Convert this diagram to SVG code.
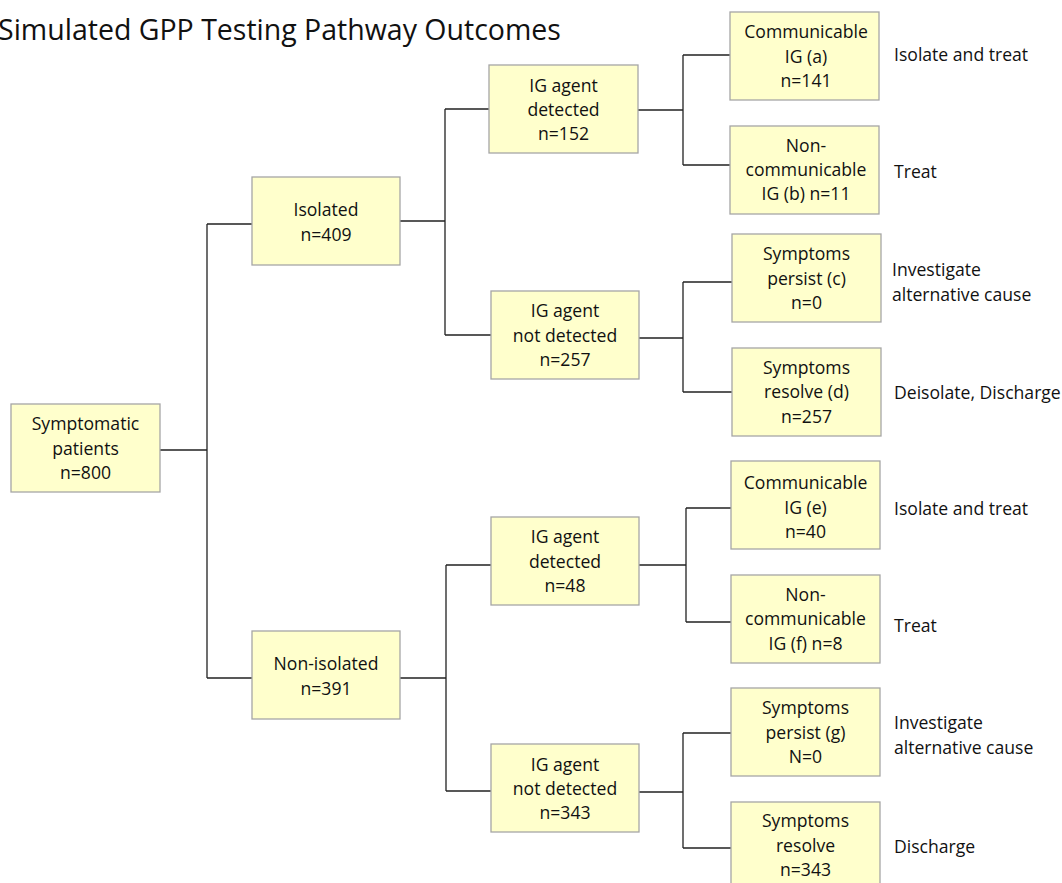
<svg xmlns="http://www.w3.org/2000/svg" width="1062" height="883" viewBox="0 0 1062 883">
<style>
.box{fill:#FFFFCC;stroke:#A6A6A6;stroke-width:1.3}
.t{font-family:"Open Sans","Liberation Sans",sans-serif;font-size:17.6px;fill:#111;text-anchor:middle}
.l{font-family:"Open Sans","Liberation Sans",sans-serif;font-size:17.6px;fill:#111}
.title{font-family:"Open Sans","Liberation Sans",sans-serif;font-size:28.5px;fill:#111}
.c{stroke:#222;stroke-width:1.3;fill:none}
</style>
<rect width="1062" height="883" fill="#fff"/>
<text class="title" x="-2" y="40">Simulated GPP Testing Pathway Outcomes</text>
<g id="connectors">
<path class="c" d="M160,450H207M207,224V678M207,224H252M207,678H252"/>
<path class="c" d="M400,221H445M445,109V335M445,109H489M445,335H491"/>
<path class="c" d="M638,110H683M683,55V165M683,55H730M683,165H730"/>
<path class="c" d="M639,338H683M683,282V392M683,282H732M683,392H732"/>
<path class="c" d="M400,678H446M446,565V791M446,565H491M446,791H491"/>
<path class="c" d="M639,565H686M686,508V622M686,508H731M686,622H731"/>
<path class="c" d="M639,792H683M683,733V848M683,733H731M683,848H731"/>
</g>
<g id="n-symptomatic"><rect class="box" x="11" y="404" width="149" height="88"/>
<text class="t" x="85.5" y="430">Symptomatic</text><text class="t" x="85.5" y="455">patients</text><text class="t" x="85.5" y="479">n=800</text></g>
<g id="n-isolated"><rect class="box" x="252" y="177" width="148" height="88"/>
<text class="t" x="326" y="216">Isolated</text><text class="t" x="326" y="241">n=409</text></g>
<g id="n-nonisolated"><rect class="box" x="252" y="631" width="148" height="88"/>
<text class="t" x="326" y="670">Non-isolated</text><text class="t" x="326" y="695">n=391</text></g>
<g id="n-det152"><rect class="box" x="489" y="65" width="149" height="88"/>
<text class="t" x="563.5" y="92">IG agent</text><text class="t" x="563.5" y="116">detected</text><text class="t" x="563.5" y="140">n=152</text></g>
<g id="n-notdet257"><rect class="box" x="491" y="291" width="148" height="88"/>
<text class="t" x="565" y="317">IG agent</text><text class="t" x="565" y="342">not detected</text><text class="t" x="565" y="366">n=257</text></g>
<g id="n-det48"><rect class="box" x="491" y="517" width="148" height="88"/>
<text class="t" x="565" y="543">IG agent</text><text class="t" x="565" y="568">detected</text><text class="t" x="565" y="592">n=48</text></g>
<g id="n-notdet343"><rect class="box" x="491" y="744" width="148" height="88"/>
<text class="t" x="565" y="771">IG agent</text><text class="t" x="565" y="795">not detected</text><text class="t" x="565" y="819">n=343</text></g>
<g id="n-a"><rect class="box" x="730" y="12" width="149" height="88"/>
<text class="t" x="806" y="38">Communicable</text><text class="t" x="806" y="63">IG (a)</text><text class="t" x="806" y="87">n=141</text></g>
<g id="n-b"><rect class="box" x="730" y="126" width="149" height="88"/>
<text class="t" x="806" y="152">Non-</text><text class="t" x="806" y="176">communicable</text><text class="t" x="806" y="200">IG (b) n=11</text></g>
<g id="n-c"><rect class="box" x="732" y="234" width="149" height="88"/>
<text class="t" x="806.5" y="260">Symptoms</text><text class="t" x="806.5" y="285">persist (c)</text><text class="t" x="806.5" y="309">n=0</text></g>
<g id="n-d"><rect class="box" x="732" y="348" width="149" height="88"/>
<text class="t" x="806.5" y="374">Symptoms</text><text class="t" x="806.5" y="398">resolve (d)</text><text class="t" x="806.5" y="423">n=257</text></g>
<g id="n-e"><rect class="box" x="731" y="461" width="149" height="88"/>
<text class="t" x="805.5" y="489">Communicable</text><text class="t" x="805.5" y="514">IG (e)</text><text class="t" x="805.5" y="538">n=40</text></g>
<g id="n-f"><rect class="box" x="731" y="575" width="149" height="88"/>
<text class="t" x="805.5" y="601">Non-</text><text class="t" x="805.5" y="625">communicable</text><text class="t" x="805.5" y="650">IG (f) n=8</text></g>
<g id="n-g"><rect class="box" x="731" y="688" width="149" height="88"/>
<text class="t" x="805.5" y="714">Symptoms</text><text class="t" x="805.5" y="739">persist (g)</text><text class="t" x="805.5" y="763">N=0</text></g>
<g id="n-h"><rect class="box" x="731" y="802" width="149" height="88"/>
<text class="t" x="805.5" y="827">Symptoms</text><text class="t" x="805.5" y="852">resolve</text><text class="t" x="805.5" y="876">n=343</text></g>
<g id="outcomes">
<text class="l" x="894" y="61">Isolate and treat</text>
<text class="l" x="894" y="178">Treat</text>
<text class="l" x="892" y="276">Investigate</text>
<text class="l" x="892" y="301">alternative cause</text>
<text class="l" x="894" y="399">Deisolate, Discharge</text>
<text class="l" x="894" y="515">Isolate and treat</text>
<text class="l" x="894" y="632">Treat</text>
<text class="l" x="894" y="729">Investigate</text>
<text class="l" x="894" y="754">alternative cause</text>
<text class="l" x="894" y="853">Discharge</text>
</g>
</svg>
